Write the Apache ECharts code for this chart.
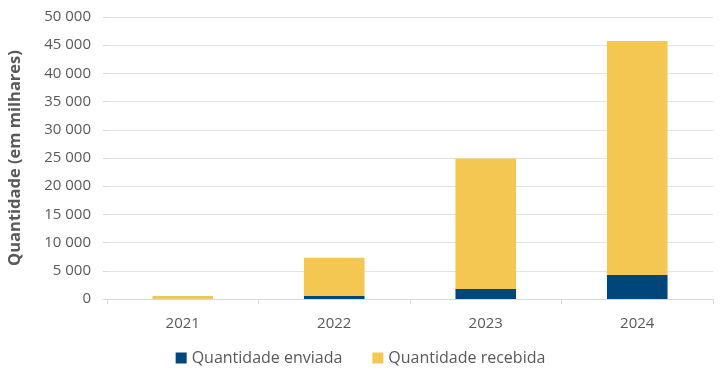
<!DOCTYPE html>
<html><head><meta charset="utf-8">
<script src="https://cdn.jsdelivr.net/npm/echarts@6/dist/echarts.min.js"></script>
<style>html,body{margin:0;padding:0;background:#fff}#c{width:721px;height:376px}</style>
</head><body><div id="c"></div>
<script>
const categories = ['2021', '2022', '2023', '2024'];
const enviada = [30, 530, 1780, 4250];
const recebida = [500, 6800, 23150, 41500];
const seriesNames = ['Quantidade enviada', 'Quantidade recebida'];

const fmt = v => String(v).replace(/\B(?=(\d{3})+(?!\d))/g, ' ');
const chart = echarts.init(document.getElementById('c'));
chart.setOption({
  animation: false,
  textStyle: { fontFamily: 'Open Sans' },
  grid: { left: 107, right: 8, top: 17, bottom: 77, containLabel: false, outerBoundsMode: 'none' },
  legend: {
    bottom: 5, left: 'center', itemWidth: 11, itemHeight: 11, itemGap: 30,
    icon: 'rect',
    textStyle: { fontFamily: 'Open Sans', fontSize: 16, color: '#595959' },
    data: seriesNames
  },
  xAxis: {
    type: 'category', data: categories,
    axisLine: { lineStyle: { color: '#d9d9d9' } },
    axisTick: { show: true, length: 5, lineStyle: { color: '#d9d9d9' } },
    axisLabel: { fontSize: 15, color: '#595959', margin: 17 }
  },
  yAxis: {
    type: 'value', min: 0, max: 50000, interval: 5000,
    name: 'Quantidade (em milhares)', nameLocation: 'middle', nameGap: 83,
    nameTextStyle: { fontSize: 16.5, fontWeight: 'bold', color: '#595959', fontFamily: 'Open Sans' },
    axisLine: { show: false },
    axisTick: { show: true, length: 4, lineStyle: { color: '#d9d9d9' } },
    axisLabel: { fontSize: 15, color: '#595959', margin: 16, formatter: fmt },
    splitLine: { lineStyle: { color: '#e3e3e3' } }
  },
  series: [
    { name: seriesNames[0], type: 'bar', stack: 's', data: enviada, barWidth: '40%', itemStyle: { color: '#00467A' } },
    { name: seriesNames[1], type: 'bar', stack: 's', data: recebida, barWidth: '40%', itemStyle: { color: '#F3C751' } }
  ]
});
</script></body></html>
